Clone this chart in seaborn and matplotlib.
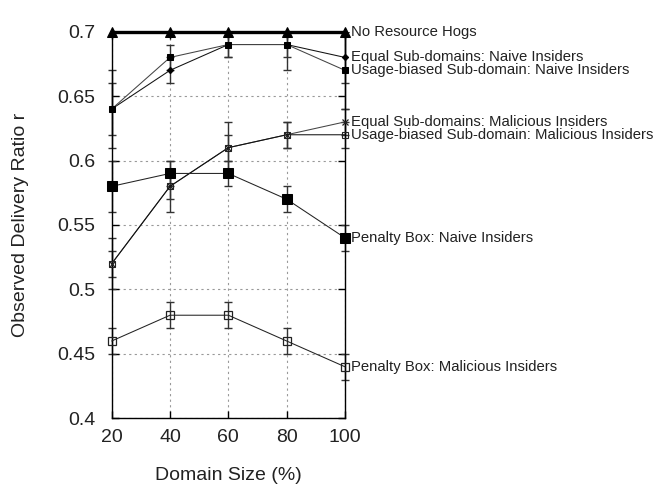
import matplotlib
matplotlib.use("Agg")
import matplotlib.pyplot as plt
from matplotlib.transforms import Bbox, TransformedBbox
import seaborn as sns
import pandas as pd

domain_size = [20, 40, 60, 80, 100]

no_hogs = [0.70, 0.70, 0.70, 0.70, 0.70]
equal_naive = [0.64, 0.67, 0.69, 0.69, 0.68]
usage_naive = [0.64, 0.68, 0.69, 0.69, 0.67]
equal_malicious = [0.52, 0.58, 0.61, 0.62, 0.63]
usage_malicious = [0.52, 0.58, 0.61, 0.62, 0.62]
penalty_naive = [0.58, 0.59, 0.59, 0.57, 0.54]
penalty_malicious = [0.46, 0.48, 0.48, 0.46, 0.44]

equal_naive_err = [0.02, 0.01, 0.01, 0.01, 0.02]
usage_naive_err = [0.03, 0.01, 0.01, 0.02, 0.03]
equal_malicious_err = [0.02, 0.02, 0.02, 0.01, 0.01]
usage_malicious_err = [0.01, 0.01, 0.01, 0.01, 0.01]
penalty_naive_err = [0.02, 0.01, 0.01, 0.01, 0.01]
penalty_malicious_err = [0.01, 0.01, 0.01, 0.01, 0.01]

series_labels = [
    "No Resource Hogs",
    "Equal Sub-domains: Naive Insiders",
    "Usage-biased Sub-domain: Naive Insiders",
    "Equal Sub-domains: Malicious Insiders",
    "Usage-biased Sub-domain: Malicious Insiders",
    "Penalty Box: Naive Insiders",
    "Penalty Box: Malicious Insiders",
]

y_ticks = [0.4, 0.45, 0.5, 0.55, 0.6, 0.65, 0.7]
y_tick_labels = ["0.4", "0.45", "0.5", "0.55", "0.6", "0.65", "0.7"]

sns.set_theme(style="white")
plt.rcParams["font.family"] = ["Liberation Sans", "DejaVu Sans"]

fig = plt.figure(figsize=(6.59, 4.87), dpi=100)
ax = fig.add_axes([0.1695, 0.141, 0.354, 0.794])

# error bars may poke past the left/right frame but are cut at top and bottom
bar_clip = TransformedBbox(Bbox([[-0.06, 0.0], [1.06, 1.0]]), ax.transAxes)

series = [
    (no_hogs, None, dict(marker="^", markersize=7, linewidth=2.4, color="black",
                         markerfacecolor="black", markeredgecolor="black")),
    (equal_naive, equal_naive_err, dict(marker="D", markersize=3.2, linewidth=0.75, color="#111111",
                                        markerfacecolor="black", markeredgecolor="black")),
    (usage_naive, usage_naive_err, dict(marker="s", markersize=4, linewidth=0.75, color="#444444",
                                        markerfacecolor="black", markeredgecolor="black")),
    (equal_malicious, equal_malicious_err, dict(marker="x", markersize=5, linewidth=0.75, color="#444444",
                                                markeredgecolor="#222222", markeredgewidth=0.9)),
    (usage_malicious, usage_malicious_err, dict(marker="s", markersize=4, linewidth=0.75, color="#111111",
                                                markerfacecolor="none", markeredgecolor="#222222",
                                                markeredgewidth=0.8)),
    (penalty_naive, penalty_naive_err, dict(marker="s", markersize=6.5, linewidth=0.75, color="#222222",
                                            markerfacecolor="black", markeredgecolor="black")),
    (penalty_malicious, penalty_malicious_err, dict(marker="s", markersize=6, linewidth=0.75, color="#222222",
                                                    markerfacecolor="none", markeredgecolor="#222222",
                                                    markeredgewidth=0.9)),
]

for (values, errs, style), label in zip(series, series_labels):
    df = pd.DataFrame({"size": domain_size, "ratio": values})
    if errs is not None:
        eb = ax.errorbar(domain_size, values, yerr=errs, fmt="none", ecolor="#333333",
                         elinewidth=1.0, capsize=3, capthick=1.0, zorder=2)
        for art in eb.get_children():
            art.set_clip_box(bar_clip)
    sns.lineplot(data=df, x="size", y="ratio", ax=ax, clip_on=False, zorder=3, **style)
    ax.annotate(label, xy=(domain_size[-1], values[-1]), xytext=(4, 0),
                textcoords="offset points", ha="left", va="center",
                fontsize=10.7, color="#222222", annotation_clip=False)

ax.set_xlim(20, 100)
ax.set_ylim(0.4, 0.7)
ax.set_xticks(domain_size)
ax.set_xticklabels([str(v) for v in domain_size], fontsize=14, color="#222222")
ax.set_yticks(y_ticks)
ax.set_yticklabels(y_tick_labels, fontsize=14, color="#222222")
ax.grid(True, linestyle=(0, (2, 3)), color="#999999", linewidth=0.8)
ax.tick_params(axis="both", direction="in", length=5, width=1, color="black",
               top=True, right=True, bottom=True, left=True)
ax.tick_params(axis="y", pad=12)
ax.tick_params(axis="x", pad=8)
for spine in ax.spines.values():
    spine.set_color("black")
    spine.set_linewidth(1.0)

ax.set_xlabel("Domain Size (%)", fontsize=14, color="#222222", labelpad=15)
ax.set_ylabel("Observed Delivery Ratio r", fontsize=14, color="#222222", labelpad=20)

fig.savefig("out.png", dpi=100, facecolor="white")
